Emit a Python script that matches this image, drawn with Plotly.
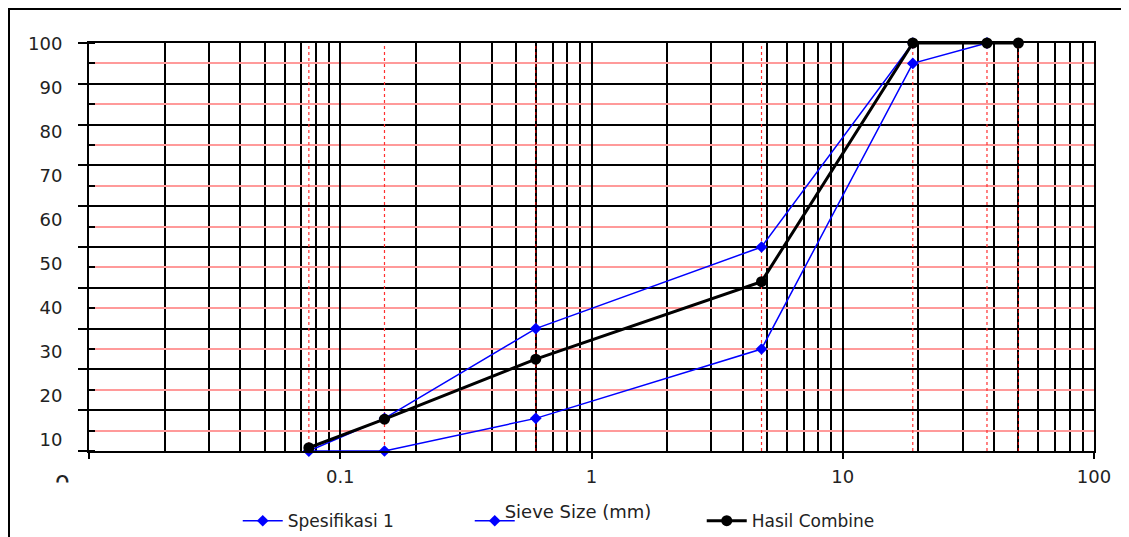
import plotly.graph_objects as go

# ---- data ----
sieve_mm = [0.075, 0.15, 0.6, 4.75, 19, 37.5, 50]
spec_sieve = [0.075, 0.15, 0.6, 4.75, 19, 37.5]
spec_lower = [0, 0, 8, 25, 95, 100]
spec_upper = [0, 8, 30, 50, 100, 100]
combine = [0.8, 7.8, 22.5, 41.5, 100, 100, 100]
y_tick_vals = [10, 20, 30, 40, 50, 60, 70, 80, 90, 100]
x_tick_vals = [0.01, 0.1, 1, 10, 100]
x_tick_text = ["", "0.1", "1", "10", "100"]

FONT = "DejaVu Sans"
# page has an 8px body margin, so the figure is 8px smaller than the window
W, H = 1121, 529
L, R, T, B = 81, 35, 35, 86
TXT = "#222222"

fig = go.Figure()

# red dotted sieve lines
dark = {0.6, 50}
for s in sieve_mm:
    fig.add_trace(go.Scatter(
        x=[s, s], y=[0, 100], mode="lines",
        line=dict(color="#c00000" if s in dark else "#ff3030", width=1.2, dash="dot"),
        showlegend=False, hoverinfo="skip", cliponaxis=False))

fig.add_trace(go.Scatter(
    x=spec_sieve, y=spec_lower, mode="lines+markers", name="Spesifikasi 1",
    line=dict(color="#0000ff", width=1.5),
    marker=dict(symbol="diamond", size=9, color="#0000ff"), cliponaxis=False))
fig.add_trace(go.Scatter(
    x=spec_sieve, y=spec_upper, mode="lines+markers", name=" ",
    line=dict(color="#0000ff", width=1.5),
    marker=dict(symbol="diamond", size=9, color="#0000ff"), cliponaxis=False))
fig.add_trace(go.Scatter(
    x=sieve_mm, y=combine, mode="lines+markers", name="Hasil Combine",
    line=dict(color="#000000", width=3),
    marker=dict(symbol="circle", size=11, color="#000000"), cliponaxis=False))

# invisible trace to activate the label axis
fig.add_trace(go.Scatter(x=[0.01], y=[50], yaxis="y2", mode="markers",
                         marker=dict(opacity=0), showlegend=False, hoverinfo="skip"))

fig.update_layout(
    width=W, height=H,
    margin=dict(l=L, r=R, t=T, b=B, autoexpand=False),
    paper_bgcolor="white", plot_bgcolor="white",
    font=dict(family=FONT, size=17, color=TXT),
    xaxis=dict(
        type="log", range=[-2, 2], automargin=False,
        tickvals=x_tick_vals, ticktext=x_tick_text,
        ticks="outside", ticklen=6, tickwidth=1.5, tickcolor="black",
        ticklabelstandoff=3,
        showgrid=True, gridcolor="black", gridwidth=1.5,
        minor=dict(dtick="D1", showgrid=True, gridcolor="black", gridwidth=1.5, ticks=""),
        showline=True, linecolor="black", linewidth=1.5, mirror=True,
        tickfont=dict(family=FONT, size=18, color=TXT),
        title=dict(text="Sieve Size (mm)" + "\u2002" * 3 + "\u200b", standoff=19,
                   font=dict(family=FONT, size=18, color=TXT)),
        zeroline=False,
    ),
    yaxis=dict(
        range=[0, 100], dtick=10, tick0=0, automargin=False,
        showticklabels=False,
        ticks="outside", ticklen=9, tickwidth=1.5, tickcolor="black",
        showgrid=True, gridcolor="black", gridwidth=1.5,
        minor=dict(dtick=5, tick0=0, showgrid=True, gridcolor="#ff9a9a", gridwidth=1.5,
                   ticks="inside", ticklen=6, tickwidth=1.5, tickcolor="black"),
        showline=True, linecolor="black", linewidth=1.5, mirror=True,
        zeroline=False,
    ),
    yaxis2=dict(
        overlaying="y", side="left", range=[7.5, 100.2], automargin=False,
        tickvals=y_tick_vals, showgrid=False, zeroline=False,
        ticks="outside", ticklen=22, tickcolor="rgba(0,0,0,0)",
        tickfont=dict(family=FONT, size=18, color=TXT),
        showline=False,
    ),
    legend=dict(
        orientation="h", x=0.148, y=-0.172, xanchor="left", yanchor="middle",
        font=dict(family=FONT, size=17, color=TXT),
        entrywidth=177, entrywidthmode="pixels", itemwidth=40,
        bgcolor="rgba(0,0,0,0)", traceorder="normal",
    ),
    showlegend=True,
)

pw, ph = W - L - R, H - T - B

# partially visible "0" label
fig.add_annotation(x=(45 - L) / pw, y=-(497 - 8 - (T + ph)) / ph, xref="paper", yref="paper",
                   text="ᴖ", showarrow=False, font=dict(family=FONT, size=24, color=TXT))

# outer frame
fig.add_shape(type="rect", xref="paper", yref="paper",
              x0=(1 - L) / pw, x1=(W + 10 - L) / pw,
              y0=-(H + 10 - (T + ph)) / ph, y1=(T + ph - 1) / ph,
              line=dict(color="black", width=2), fillcolor="rgba(0,0,0,0)", layer="below")

fig.write_html("out.html")
